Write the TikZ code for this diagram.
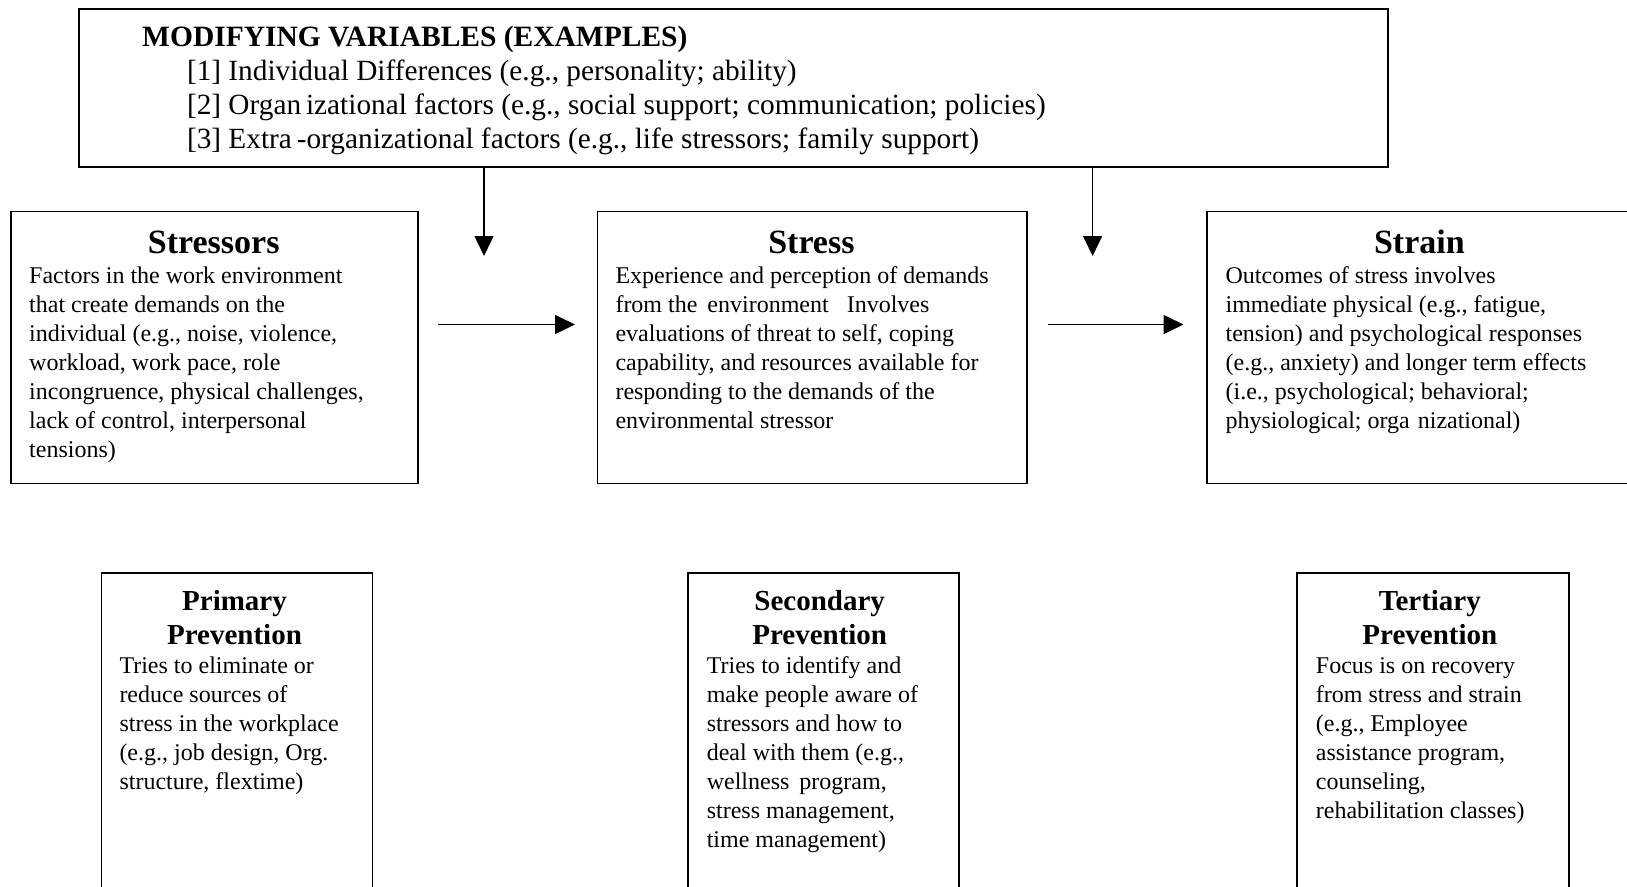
\documentclass[tikz,border=0pt]{standalone}
\usepackage{fontspec}
\setmainfont{Liberation Serif}
\usetikzlibrary{arrows.meta}
\tikzset{
  box/.style={draw, line width=1.8pt, inner sep=0pt, anchor=north west},
  body/.style={anchor=north west, inner sep=0pt, align=left, font={\fontsize{24}{29.05}\selectfont}},
  bigtitle/.style={anchor=base, inner sep=0pt, font={\fontsize{34}{40}\selectfont\bfseries}},
  ptitle/.style={anchor=north, inner sep=0pt, align=center, font={\fontsize{29}{34.2}\selectfont\bfseries}},
  topitems/.style={anchor=north west, inner sep=0pt, align=left, font={\fontsize{29.3}{34.2}\selectfont}},
  arr/.style={line width=1.5pt, -{Triangle[length=20pt,width=19pt]}}
}
\begin{document}
\begin{tikzpicture}[x=1pt,y=-1pt]
\useasboundingbox (0,0) rectangle (1627,886);
\clip (0,0) rectangle (1627,886);
\fill[white] (0,0) rectangle (1627,886);
% boxes
\node[box, minimum width=1309.5pt, minimum height=157.7pt] (top) at (77.8,8.3) {};
\node[box, minimum width=406.7pt, minimum height=271.9pt] (stressors) at (10.4,210.6) {};
\node[box, minimum width=429.6pt, minimum height=271.9pt] (stress) at (596.6,210.6) {};
\node[box, minimum width=460pt, minimum height=271.9pt] (strain) at (1205.7,210.6) {};
\node[box, minimum width=270.9pt, minimum height=380pt] (primary) at (100.6,571.7) {};
\node[box, minimum width=270.8pt, minimum height=380pt] (secondary) at (686.9,571.7) {};
\node[box, minimum width=271.9pt, minimum height=380pt] (tertiary) at (1296,571.7) {};
% top box text
\node[anchor=base west, inner sep=0pt, font={\fontsize{29.5}{34.2}\selectfont\bfseries}] (modtitle) at (142,46) {MODIFYING VARIABLES (EXAMPLES)};
\node[topitems] (moditems) at (186.8,56.1) {\strut{}[1] Individual Differences (e.g., personality; ability)\\{}%
[2] Organ\,izational factors (e.g., social support; communication; policies)\\{}%
[3] Extra\,-organizational factors (e.g., life stressors; family support)};
% titles
\node[bigtitle] (stressorsT) at (213.7,253) {Stressors};
\node[bigtitle] (stressT) at (811.4,253) {Stress};
\node[bigtitle] (strainT) at (1419.4,253) {Strain};
% bodies
\node[body] (stressorsB) at (29,262.7) {\strut Factors in the work environment\\
that create demands on the\\
individual (e.g., noise, violence,\\
workload, work pace, role\\
incongruence, physical challenges,\\
lack of control, interpersonal\\
tensions)};
\node[body] (stressB) at (615.3,262.7) {\strut Experience and perception of demands\\
from the\, environment \ \ Involves\\
evaluations of threat to self, coping\\
capability, and resources available for\\
responding to the demands of the\\
environmental stressor};
\node[body] (strainB) at (1225.4,262.7) {\strut Outcomes of stress involves\\
immediate physical (e.g., fatigue,\\
tension) and psychological responses\\
(e.g., anxiety) and longer term effects\\
(i.e., psychological; behavioral;\\
physiological; orga\,\,nizational)};
% prevention boxes
\node[ptitle] (primaryT) at (234.5,586) {\strut Primary\\Prevention};
\node[ptitle] (secondaryT) at (819.7,586) {\strut Secondary\\Prevention};
\node[ptitle] (tertiaryT) at (1429.8,586) {\strut Tertiary\\Prevention};
\node[body] (primaryB) at (119.3,652.7) {\strut Tries to eliminate or\\
reduce sources of\\
stress in the workplace\\
(e.g., job design, Org.\\
structure, flextime)};
\node[body] (secondaryB) at (706.6,652.7) {\strut Tries to identify and\\
make people aware of\\
stressors and how to\\
deal with them (e.g.,\\
wellness\, program,\\
stress management,\\
time management)};
\node[body] (tertiaryB) at (1315.7,652.7) {\strut Focus is on recovery\\
from stress and strain\\
(e.g., Employee\\
assistance program,\\
counseling,\\
rehabilitation classes)};
% connectors
\coordinate (dA) at (484,256);
\coordinate (dB) at (1092.6,256);
\coordinate (hA1) at (437.9,324.5);
\coordinate (hA2) at (575,324.5);
\coordinate (hB1) at (1047.9,324.5);
\coordinate (hB2) at (1183.5,324.5);
\draw[arr] (top.south -| dA) -- (dA);
\draw[arr] (top.south -| dB) -- (dB);
\draw[arr] (hA1) -- (hA2);
\draw[arr] (hB1) -- (hB2);
\end{tikzpicture}
\end{document}
